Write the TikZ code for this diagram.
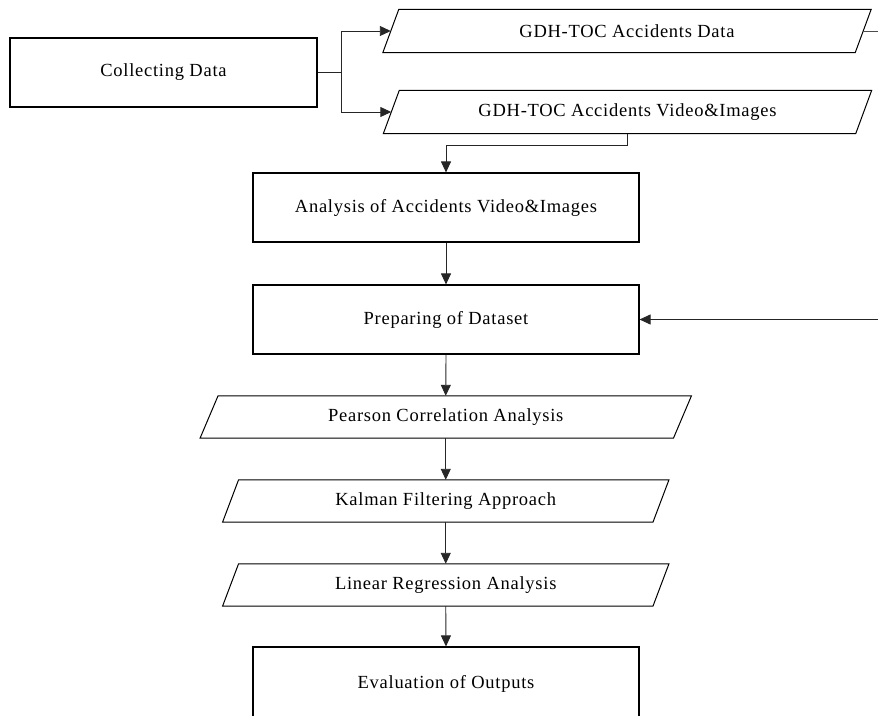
\documentclass[tikz,border=0pt]{standalone}
\usepackage{fontspec}
\setmainfont[LetterSpace=4]{Liberation Serif}
\usetikzlibrary{arrows.meta,calc}
\newcommand\drawpara[2]{%
  \draw[pline] ($(#1.north west)+(#2,0)$) -- ($(#1.north east)+(#2,0)$) -- ($(#1.south east)+(-#2,0)$) -- ($(#1.south west)+(-#2,0)$) -- cycle;}
\begin{document}
\begin{tikzpicture}[x=1pt,y=-1pt,
  txt/.style={font=\fontsize{18.5}{20}\selectfont},
  box/.style={txt,draw=black,line width=1.1pt,minimum width=386pt,minimum height=69pt,inner sep=0pt},
  para/.style={txt,draw=none,minimum height=43pt,inner sep=0pt},
  pline/.style={draw=black,line width=1pt,line join=miter},
  conn/.style={draw=black!85,line width=0.9pt,-{Triangle[length=11pt,width=10pt]}},
  plain/.style={draw=black!70,line width=0.9pt}]
\useasboundingbox (0,0) rectangle (878,715);
\clip (0,0) rectangle (878,715);
% nodes
\node[box,minimum width=307pt] (coll) at (163.5,72.5) {Collecting Data};
\node[para,minimum width=472pt] (p1) at (627,31) {GDH-TOC Accidents Data};
\node[para,minimum width=472pt] (p2) at (627.5,112) {GDH-TOC Accidents Video\&Images};
\node[box] (ana) at (446,207.5) {Analysis of Accidents Video\&Images};
\node[box] (prep) at (446,319.5) {Preparing of Dataset};
\node[para,minimum width=473pt,minimum height=42pt] (pear) at (445.75,417) {Pearson Correlation Analysis};
\node[para,minimum width=430pt,minimum height=42pt] (kal) at (445.75,501) {Kalman Filtering Approach};
\node[para,minimum width=430pt,minimum height=42pt] (lin) at (445.75,585) {Linear Regression Analysis};
\node[box,minimum height=74pt] (eval) at (446,684) {Evaluation of Outputs};
\drawpara{p1}{8}
\drawpara{p2}{8}
\drawpara{pear}{9}
\drawpara{kal}{8}
\drawpara{lin}{8}
\coordinate (outA) at (878,31);
\coordinate (inB) at (878,319.5);
% connectors
\draw[conn] (coll.east) -- ++(24,0) |- (p1.west);
\draw[conn] (coll.east) -- ++(24,0) |- (p2.west);
\draw[plain] (p1.east) -- (outA);
\draw[conn] (p2.south) -- ++(0,12) -| (ana.north);
\draw[conn] (ana.south) -- (prep.north);
\draw[conn] (inB) -- (prep.east);
\draw[conn] (prep.south) -- (pear.north);
\draw[conn] (pear.south) -- (kal.north);
\draw[conn] (kal.south) -- (lin.north);
\draw[conn] (lin.south) -- (eval.north);
\end{tikzpicture}
\end{document}
